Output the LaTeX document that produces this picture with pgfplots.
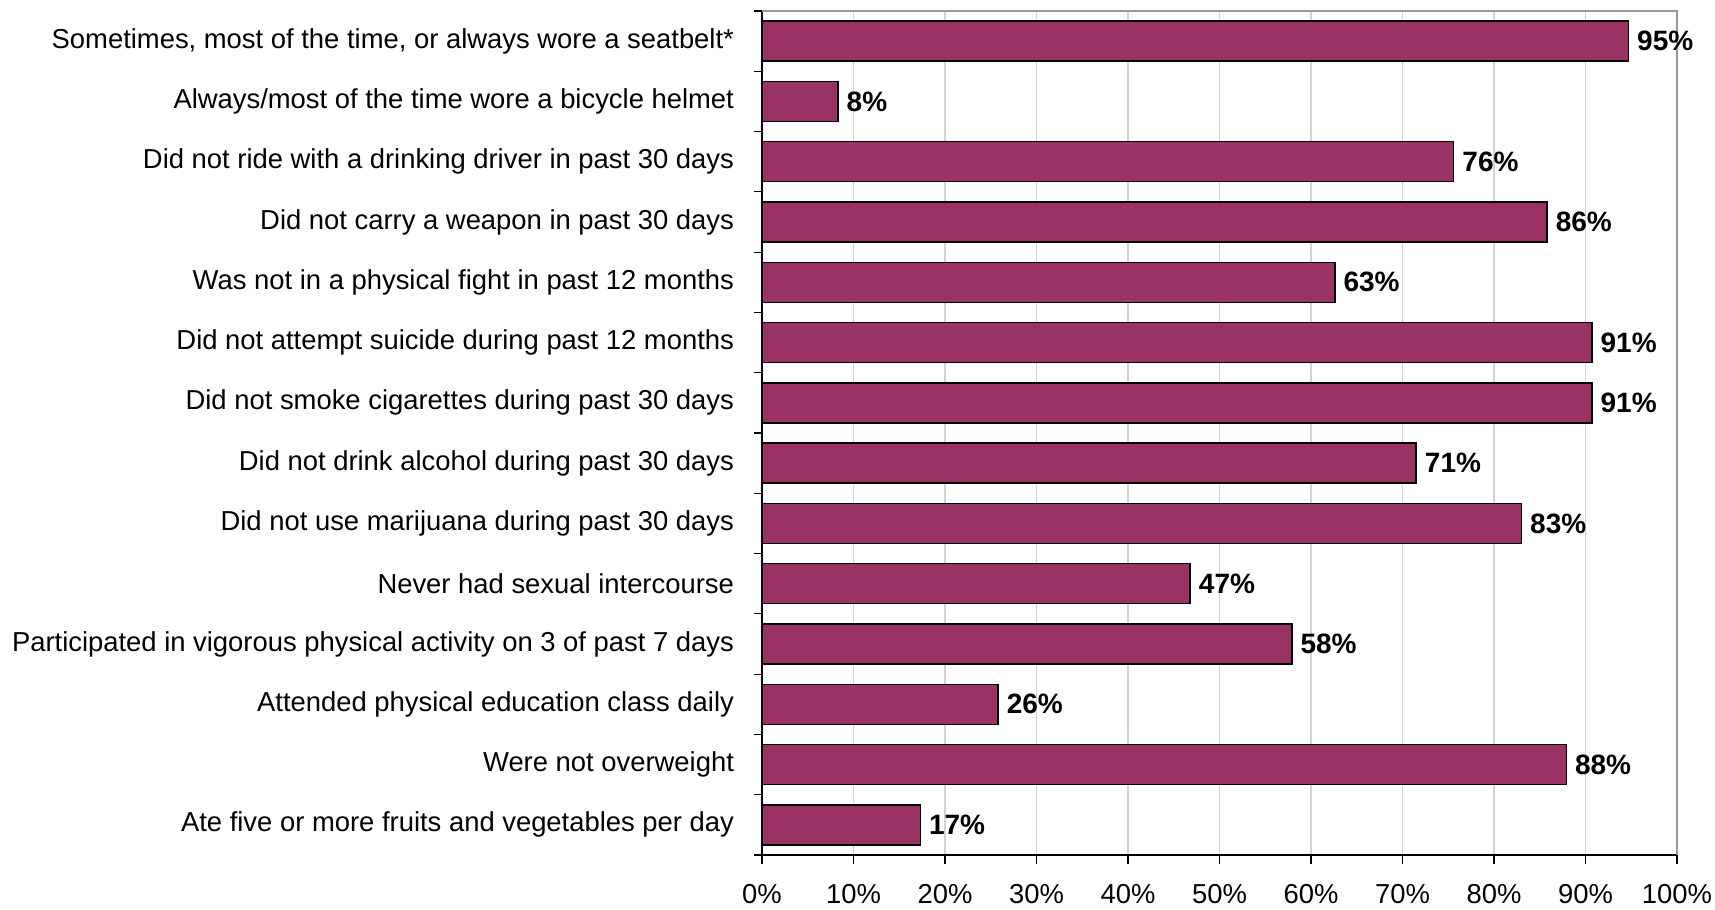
\documentclass[border=0pt]{standalone}
\usepackage{pgfplots}
\pgfplotsset{compat=1.18}
\usepackage{pgfplotstable}
\usepackage{fontspec}
\setmainfont{Liberation Sans}
\definecolor{barcol}{RGB}{153,51,102}
\pgfplotstableread[col sep=comma]{
y,x,lab
0,94.7,95\%
1,8.3,8\%
2,75.6,76\%
3,85.8,86\%
4,62.6,63\%
5,90.7,91\%
6,90.7,91\%
7,71.5,71\%
8,83.0,83\%
9,46.8,47\%
10,57.9,58\%
11,25.8,26\%
12,87.9,88\%
13,17.3,17\%
}\datatable
\begin{document}
\begin{tikzpicture}
\begin{axis}[
  scale only axis,
  width=457.5pt, height=422pt,
  xmin=0, xmax=100,
  ymin=-0.5, ymax=13.5,
  y dir=reverse,
  axis x line*=bottom,
  axis y line*=left,
  axis line style={black, line width=0.6pt},
  xtick={0,10,...,100},
  xticklabels={0\%,10\%,20\%,30\%,40\%,50\%,60\%,70\%,80\%,90\%,100\%},
  xmajorgrids,
  major grid style={gray!35, line width=0.6pt},
  xtick style={black, line width=0.6pt},
  tick align=outside,
  major tick length=4.5pt,
  xticklabel style={font=\fontsize{13.7}{15}\selectfont, yshift=-6.5pt},
  ytick={0,...,13},
  yticklabels={
    {Sometimes, most of the time, or always wore a seatbelt*},
    {Always/most of the time wore a bicycle helmet},
    {Did not ride with a drinking driver in past 30 days},
    {Did not carry a weapon in past 30 days},
    {Was not in a physical fight in past 12 months},
    {Did not attempt suicide during past 12 months},
    {Did not smoke cigarettes during past 30 days},
    {Did not drink alcohol during past 30 days},
    {Did not use marijuana during past 30 days},
    {Never had sexual intercourse},
    {Participated in vigorous physical activity on 3 of past 7 days\ },
    {Attended physical education class daily},
    {Were not overweight},
    {Ate five or more fruits and vegetables per day}},
  ytick style={draw=none},
  yticklabel style={font=\fontsize{13.7}{15}\selectfont, xshift=-6pt},
  extra y ticks={-0.5,0.5,...,13.5},
  extra y tick labels={},
  extra y tick style={ytick style={draw=black, line width=0.6pt}, major tick length=4pt, grid=none},
  clip=false,
]
\addplot[xbar, bar width=20pt, fill=barcol, draw=black, line width=0.75pt,
  point meta=explicit symbolic,
  nodes near coords,
  nodes near coords style={font=\bfseries\fontsize{14}{16}\selectfont, anchor=west, inner sep=0pt, xshift=4pt}]
  table[x=x, y=y, meta=lab]{\datatable};
\draw[gray!80, line width=0.6pt] (rel axis cs:0,1) -- (rel axis cs:1,1) -- (rel axis cs:1,0);
\end{axis}
\pgfresetboundingbox
\useasboundingbox (-381pt,-27.5pt) rectangle (476.5pt,427.5pt);
\end{tikzpicture}
\end{document}
